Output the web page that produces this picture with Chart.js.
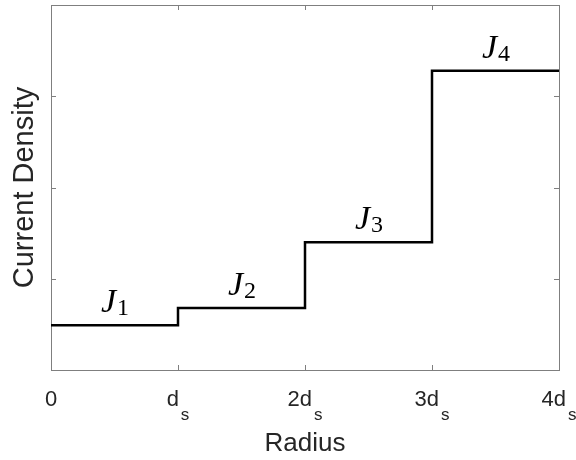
<!DOCTYPE html>
<html>
<head>
<meta charset="utf-8">
<script src="https://cdn.jsdelivr.net/npm/chart.js@4/dist/chart.umd.min.js"></script>
<style>
  html, body { margin: 0; padding: 0; background: #ffffff; }
  #wrap { width: 576px; height: 460px; }
</style>
</head>
<body>
<div id="wrap"><canvas id="c" width="576" height="460"></canvas></div>
<script>
// ---- data ----
const radiusEdges = [0, 1, 2, 3, 4];            // in units of d_s
const densityLevels = [0.49, 0.68, 1.40, 3.28]; // J1..J4 (arbitrary units)
const segmentNames = ['J', 'J', 'J', 'J'];
const segmentSubs = ['1', '2', '3', '4'];
const xTickValues = [0, 1, 2, 3, 4];
const xTickMain = ['0', 'd', '2d', '3d', '4d'];
const xTickSub = ['', 's', 's', 's', 's'];
const yTickValues = [1, 2, 3];
const xTitle = 'Radius';
const yTitle = 'Current Density';

// step line points: each level holds from its edge to the next edge
const stepPoints = densityLevels.map((v, i) => ({ x: radiusEdges[i], y: v }));
stepPoints.push({ x: radiusEdges[radiusEdges.length - 1], y: densityLevels[densityLevels.length - 1] });

const axisGray = '#7f7f7f';
const textGray = '#262626';

const decorPlugin = {
  id: 'decor',
  beforeDatasetsDraw(chart) {
    const { ctx, chartArea: a, scales: { x, y } } = chart;
    ctx.save();
    ctx.strokeStyle = axisGray;
    ctx.lineWidth = 1;
    ctx.strokeRect(Math.round(a.left) + 0.5, Math.round(a.top) + 0.5,
                   Math.round(a.right - a.left), Math.round(a.bottom - a.top));
    const tl = 5;
    ctx.beginPath();
    xTickValues.forEach(v => {
      const px = Math.round(x.getPixelForValue(v)) + 0.5;
      ctx.moveTo(px, a.bottom); ctx.lineTo(px, a.bottom - tl);
      ctx.moveTo(px, a.top); ctx.lineTo(px, a.top + tl);
    });
    yTickValues.forEach(v => {
      const py = Math.round(y.getPixelForValue(v)) + 0.5;
      ctx.moveTo(a.left, py); ctx.lineTo(a.left + tl, py);
      ctx.moveTo(a.right, py); ctx.lineTo(a.right - tl, py);
    });
    ctx.stroke();
    ctx.restore();
  },
  afterDraw(chart) {
    const { ctx, chartArea: a, scales: { x, y } } = chart;
    ctx.save();
    // x tick labels with subscripts
    const mainFont = '22px "Liberation Sans", Arial, sans-serif';
    const subFont = '17px "Liberation Sans", Arial, sans-serif';
    ctx.fillStyle = textGray;
    ctx.textBaseline = 'alphabetic';
    ctx.textAlign = 'left';
    xTickValues.forEach((v, i) => {
      ctx.font = mainFont;
      const wm = ctx.measureText(xTickMain[i]).width;
      ctx.font = subFont;
      const ws = xTickSub[i] ? ctx.measureText(xTickSub[i]).width + 2 : 0;
      const cx = x.getPixelForValue(v);
      const start = cx - (wm + ws) / 2;
      ctx.font = mainFont;
      ctx.fillText(xTickMain[i], start, a.bottom + 36);
      if (xTickSub[i]) {
        ctx.font = subFont;
        ctx.fillText(xTickSub[i], start + wm + 2, a.bottom + 50);
      }
    });
    // segment labels J_n
    ctx.fillStyle = '#000000';
    const jFont = 'italic 34px "Liberation Serif", "DejaVu Serif", serif';
    const nFont = '24px "Liberation Serif", "DejaVu Serif", serif';
    densityLevels.forEach((lv, i) => {
      const cx = (x.getPixelForValue(radiusEdges[i]) + x.getPixelForValue(radiusEdges[i + 1])) / 2;
      const by = y.getPixelForValue(lv) - 13;
      ctx.font = jFont;
      const wj = ctx.measureText(segmentNames[i]).width;
      ctx.font = nFont;
      const wn = ctx.measureText(segmentSubs[i]).width;
      const start = cx - (wj + wn) / 2;
      ctx.font = jFont;
      ctx.fillText(segmentNames[i], start, by);
      ctx.font = nFont;
      ctx.fillText(segmentSubs[i], start + wj + 1, by + 3);
    });
    ctx.restore();
  }
};

new Chart(document.getElementById('c'), {
  type: 'line',
  data: {
    datasets: [{
      data: stepPoints,
      stepped: true,
      borderColor: '#000000',
      borderWidth: 2.5,
      pointRadius: 0,
      fill: false
    }]
  },
  options: {
    responsive: false,
    animation: false,
    layout: { padding: { left: 0, right: 17, top: 5, bottom: 0 } },
    plugins: { legend: { display: false }, tooltip: { enabled: false } },
    scales: {
      x: {
        type: 'linear',
        min: 0, max: 4,
        ticks: { display: false },
        grid: { display: false, drawTicks: false },
        border: { display: false },
        title: {
          display: true, text: xTitle, color: textGray,
          font: { family: '"Liberation Sans", Arial, sans-serif', size: 26 },
          padding: { top: 58.4, bottom: 0.4 }
        }
      },
      y: {
        type: 'linear',
        min: 0, max: 4,
        ticks: { display: false },
        grid: { display: false, drawTicks: false },
        border: { display: false },
        title: {
          display: true, text: yTitle, color: textGray,
          font: { family: '"Liberation Sans", Arial, sans-serif', size: 29 },
          padding: { top: 8, bottom: 8.2 }
        }
      }
    }
  },
  plugins: [decorPlugin]
});
</script>
</body>
</html>
